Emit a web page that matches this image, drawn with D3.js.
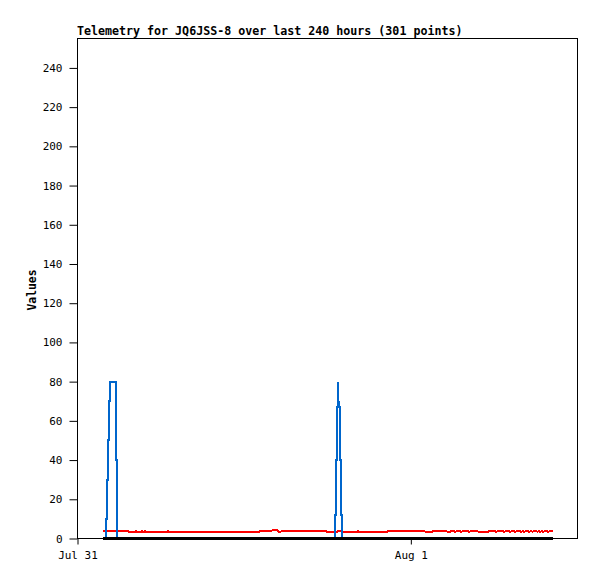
<!DOCTYPE html>
<html><head><meta charset="utf-8">
<script src="https://cdn.jsdelivr.net/npm/d3@7"></script>
<style>
html,body{margin:0;padding:0;background:#fff;}
svg{display:block;}
</style></head>
<body>
<script>
// ---- data (hours since Jul 31 00:00 UTC) ----
const title = "Telemetry for JQ6JSS-8 over last 240 hours (301 points)";
const yLabel = "Values";
const yTicks = [0,20,40,60,80,100,120,140,160,180,200,220,240];
const xTickDates = ["2024-07-31T00:00:00Z","2024-08-01T00:00:00Z"];
const xDomain = ["2024-07-31T00:00:00Z","2024-08-01T12:00:00Z"];
const yDomain = [0,255];

const redHours = [1.87,3.60,3.75,4.11,4.22,4.32,4.54,4.65,4.76,4.86,4.97,6.41,6.52,6.63,13.05,13.19,13.98,14.13,14.34,14.49,14.63,14.77,17.80,18.02,18.67,18.77,19.03,19.17,20.11,20.22,20.32,22.27,22.41,24.94,25.08,25.51,25.66,26.52,26.67,26.81,26.92,27.10,27.21,27.32,27.53,27.64,27.75,28.11,28.22,28.32,28.76,28.90,29.55,29.69,30.05,30.16,30.27,30.63,30.74,30.85,31.06,31.17,31.28,31.42,31.53,31.64,31.86,31.96,32.07,32.18,32.29,32.43,32.54,32.65,32.76,32.86,33.01,33.12,33.23,33.33,33.44,33.55,33.66,33.80,33.91,34.02,34.23];
const redValues = [4,4,3.2,3.2,3.8,3.2,3.2,3.8,3.2,3.8,3.2,3.2,3.8,3.2,3.2,4,4,4.4,4.4,3.5,3.5,4,4,3.2,3.2,4,4,3.2,3.2,3.8,3.2,3.2,4,4,3.2,3.2,4,4,3.3,3.3,4,4,3.3,4,4,3.3,4,4,3.3,4,4,3.2,3.2,4,4,3.3,4,4,3.3,4,4,3.3,4,4,3.3,4,4,3.3,4,3.3,4,4,3.3,4,3.3,4,4,3.3,4,3.3,4,3.3,4,4,3.3,4,4];

const blueHours = [1.87,2.05,2.06,2.13,2.14,2.20,2.21,2.28,2.29,2.35,2.36,2.77,2.78,2.84,2.85,18.56,18.57,18.62,18.63,18.69,18.70,18.76,18.77,18.80,18.83,18.85,18.90,18.91,18.96,18.97,19.02,19.03,34.23];
const blueValues = [0,0,10,10,30,30,50,50,70,70,80,80,40,40,0,0,12,12,40,40,67,67,80,67,67,67,67,40,40,12,12,0,0];

const blackHours = [1.87,34.23];
const blackValues = [0,0];

// ---- layout ----
const W=597,H=579;
const L=77.5,R=577.5,T=38.5,B=538.5;
const base = new Date(xDomain[0]).getTime();
const toDate = h => new Date(base + h*3600e3);

const svg = d3.select("body").append("svg").attr("width",W).attr("height",H);
svg.append("rect").attr("width",W).attr("height",H).attr("fill","#fff");

const x = d3.scaleUtc().domain(xDomain.map(d=>new Date(d))).range([L,R]);
const y = d3.scaleLinear().domain(yDomain).range([B,T]);

const mono = "'DejaVu Sans Mono', monospace";

// frame
svg.append("rect").attr("x",L).attr("y",T).attr("width",R-L).attr("height",B-T)
  .attr("fill","none").attr("stroke","#000").attr("stroke-width",1);

// y axis
const yAxis = d3.axisLeft(y).tickValues(yTicks).tickSize(8).tickPadding(7).tickSizeOuter(0);
const gy = svg.append("g").attr("transform",`translate(${L},0)`).call(yAxis);
gy.select(".domain").remove();
gy.selectAll("line").attr("stroke","#000");
gy.selectAll("text").attr("font-family",mono).attr("font-size","11px").attr("fill","#000");

// x axis
const xAxis = d3.axisBottom(x).tickValues(xTickDates.map(d=>new Date(d)))
  .tickFormat(d3.utcFormat("%b %-d")).tickSize(6).tickPadding(7).tickSizeOuter(0);
const gx = svg.append("g").attr("transform",`translate(0,${B})`).call(xAxis);
gx.select(".domain").remove();
gx.selectAll("line").attr("stroke","#000");
gx.selectAll("text").attr("font-family",mono).attr("font-size","11px").attr("fill","#000");

// series
const line = d3.line().x(d=>x(toDate(d[0]))).y(d=>y(d[1]));
const zip = (a,b)=>a.map((v,i)=>[v,b[i]]);
svg.append("path").datum(zip(redHours,redValues)).attr("d",line)
  .attr("fill","none").attr("stroke","#ff0000").attr("stroke-width",2)
  .attr("stroke-linejoin","miter").attr("shape-rendering","crispEdges");
svg.append("path").datum(zip(blueHours,blueValues)).attr("d",line)
  .attr("fill","none").attr("stroke","#0066cc").attr("stroke-width",2)
  .attr("stroke-linejoin","miter").attr("shape-rendering","crispEdges");
svg.append("path").datum(zip(blackHours,blackValues)).attr("d",line)
  .attr("fill","none").attr("stroke","#000").attr("stroke-width",2.5).attr("shape-rendering","crispEdges");

// title
svg.append("text").attr("x",L-0.5).attr("y",34.5).text(title)
  .attr("font-family",mono).attr("font-weight","bold").attr("font-size","11.65px").attr("fill","#000");

// y label
svg.append("text").attr("transform","translate(36,290) rotate(-90)").attr("text-anchor","middle")
  .text(yLabel).attr("font-family",mono).attr("font-weight","bold").attr("font-size","11.4px").attr("fill","#000");
</script>
</body></html>
